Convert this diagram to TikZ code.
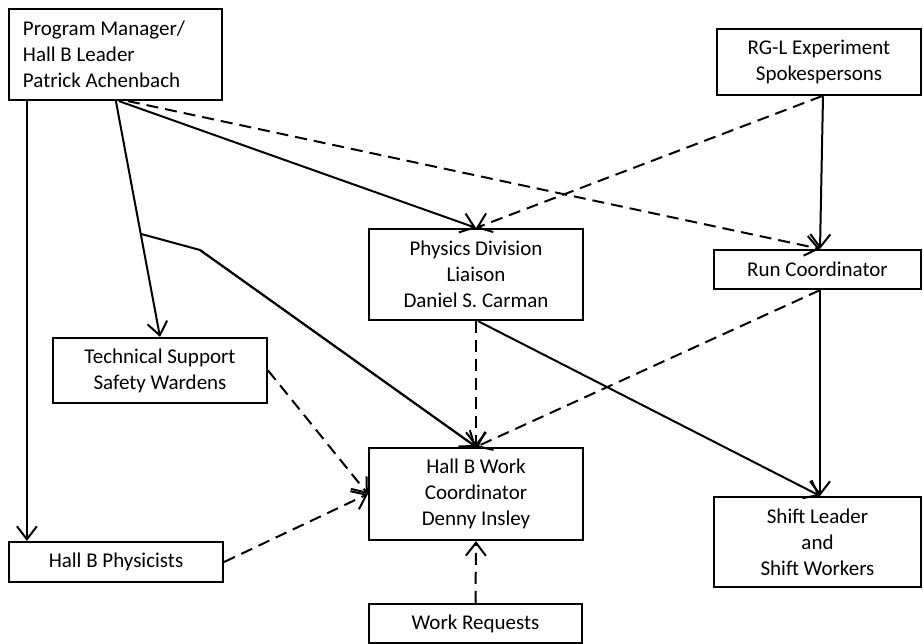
\documentclass[tikz,border=0pt]{standalone}
\usepackage{fontspec}
\setmainfont{Carlito}
\usetikzlibrary{arrows.meta,calc}
\begin{document}
\begin{tikzpicture}[x=1pt,y=-1pt,
  box/.style={draw,line width=2.2pt,inner sep=0pt,align=center,font=\fontsize{21}{26}\selectfont},
  link/.style={line width=2pt,-{Straight Barb[length=13pt,width=20pt]}},
  plain/.style={line width=2pt},
  dlink/.style={link,dash pattern=on 12pt off 7pt}]
\useasboundingbox (0,0) rectangle (923,644);
\node[box,minimum width=213pt,minimum height=91pt,text width=185pt,align=flush left,
  execute at begin node={\spaceskip=0.226em\relax}] (pm) at (115.5,54.5) {Program Manager/\\Hall B Leader\\Patrick Achenbach};
\node[box,minimum width=204pt,minimum height=66pt] (rg) at (819,62) {RG-L Experiment\\Spokespersons};
\node[box,minimum width=214pt,minimum height=91pt] (phys) at (476,274.5) {Physics Division\\Liaison\\Daniel S. Carman};
\node[box,minimum width=207pt,minimum height=39pt] (run) at (817.5,269.5) {Run Coordinator};
\node[box,minimum width=214pt,minimum height=65pt] (tech) at (160,370.5) {Technical Support\\Safety Wardens};
\node[box,minimum width=214pt,minimum height=92pt] (work) at (476,494) {Hall B Work\\Coordinator\\Denny Insley};
\node[box,minimum width=207pt,minimum height=90pt] (shift) at (817.5,542) {Shift Leader\\and\\Shift Workers};
\node[box,minimum width=214pt,minimum height=40pt] (hbp) at (116,562) {Hall B Physicists};
\node[box,minimum width=213pt,minimum height=39pt] (req) at (475.5,623.5) {Work Requests};

\coordinate (pmA) at ([xshift=108pt]pm.south west);
\coordinate (br) at ($(pmA)!0.563!(tech.north)$);
\coordinate (bend) at (200,250);

\draw[link] ([xshift=19pt]pm.south west) -- ([xshift=19pt]hbp.north west);
\draw[link] (pmA) -- (tech.north);
\draw[link] ([xshift=111pt]pm.south west) -- (phys.north);
\draw[dlink] ([xshift=120pt]pm.south west) -- ([xshift=2.5pt]run.north);
\draw[plain,line join=round] (br) -- (bend) -- (work.north);
\draw[link] (bend) -- (work.north);
\draw[dlink] ([xshift=3pt]rg.south) -- (phys.north);
\draw[link] ([xshift=4pt]rg.south) -- ([xshift=2.5pt]run.north);
\draw[dlink] (phys.south) -- (work.north);
\draw[link] ([xshift=2pt]phys.south) -- ([xshift=2.5pt]shift.north);
\draw[link] ([xshift=2.5pt]run.south) -- ([xshift=2.5pt]shift.north);
\draw[dlink] ([xshift=2.5pt]run.south) -- (work.north);
\draw[dlink] (tech.east) -- (work.west);
\draw[dlink] (hbp.east) -- (work.west);
\draw[dlink] (req.north) -- (work.south);
\end{tikzpicture}
\end{document}
